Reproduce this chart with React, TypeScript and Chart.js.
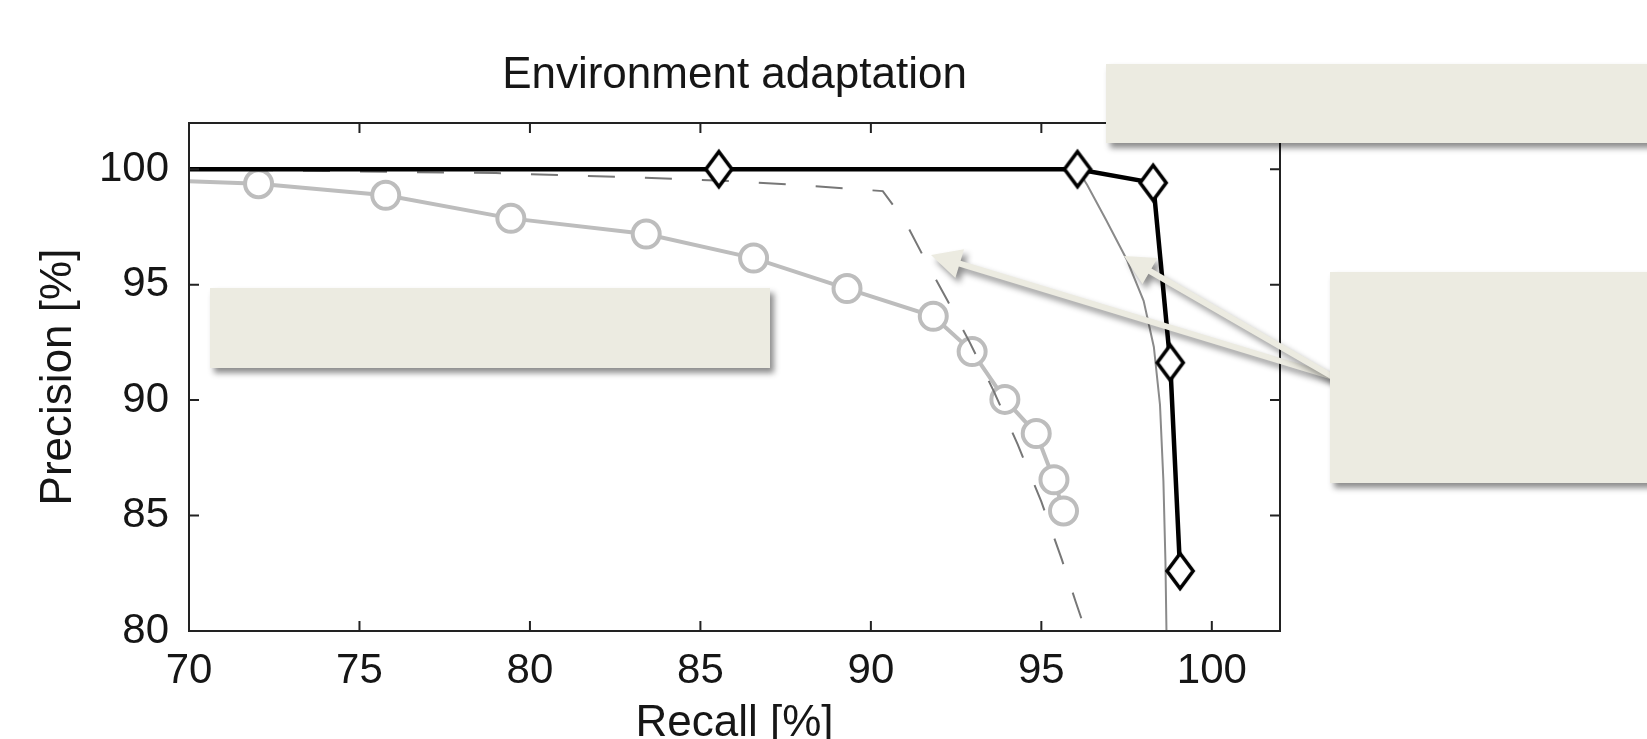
import { useEffect, useRef } from 'react';
import { Chart, registerables } from 'chart.js';

Chart.register(...registerables);

// ---------- data ----------
const xTicks = [70, 75, 80, 85, 90, 95, 100];
const yTicks = [80, 85, 90, 95, 100];

// black line, diamond markers
const adaptedRecall = [55, 85.54, 96.06, 98.28, 98.78, 99.07];
const adaptedPrecision = [100, 100, 100, 99.41, 91.62, 82.6];

// thin gray solid line
const thinRecall = [96.06, 96.35, 96.9, 97.5, 98.0, 98.3, 98.48, 98.58, 98.64, 98.67, 98.69];
const thinPrecision = [100, 99.3, 97.8, 96.1, 94.3, 92.3, 89.8, 86.5, 83.0, 80.0, 79.0];

// gray dashed line
const dashedRecall = [70, 74, 79, 83, 86, 88, 90.35, 91.0, 91.6, 92.25, 92.9, 93.6, 94.3, 95.0, 95.6, 96.0, 96.3, 96.5];
const dashedPrecision = [100, 99.92, 99.83, 99.65, 99.48, 99.3, 99.05, 97.75, 96.05, 94.3, 92.5, 90.4, 88.1, 85.6, 83.1, 81.3, 80.0, 79.0];

// light gray line, circle markers
const baselineRecall = [64, 72.04, 75.77, 79.44, 83.41, 86.56, 89.3, 91.83, 92.97, 93.93, 94.85, 95.37, 95.65];
const baselinePrecision = [99.8, 99.37, 98.87, 97.87, 97.19, 96.15, 94.83, 93.63, 92.1, 90.03, 88.55, 86.55, 85.2];

// ---------- layout constants ----------
const W = 1647;
const H = 739;
const AREA_LEFT = 189;
const AREA_RIGHT = 1280;
const AREA_BOTTOM = 631;
const BEIGE = '#ecebe1';
const FONT = '"Liberation Sans", Arial, Helvetica, sans-serif';
const TEXT = '#161616';

const toPoints = (xs: number[], ys: number[]) => xs.map((x, i) => ({ x, y: ys[i] }));

function makeDiamond(): HTMLCanvasElement {
  const c = document.createElement('canvas');
  c.width = 36;
  c.height = 46;
  const g = c.getContext('2d')!;
  g.beginPath();
  g.moveTo(18, 5.5);
  g.lineTo(31, 23);
  g.lineTo(18, 40.5);
  g.lineTo(5, 23);
  g.closePath();
  g.fillStyle = '#ffffff';
  g.fill();
  g.lineWidth = 3.6;
  g.lineJoin = 'miter';
  g.strokeStyle = '#000000';
  g.stroke();
  return c;
}

const framePlugin = {
  id: 'frame',
  afterDatasetsDraw(chart: any) {
    const { ctx, chartArea: a, scales } = chart;
    const x = scales.x;
    const y = scales.y;
    ctx.save();
    ctx.strokeStyle = '#222222';
    ctx.lineWidth = 2;
    ctx.strokeRect(a.left, a.top, a.right - a.left, a.bottom - a.top);
    const tl = 10;
    ctx.beginPath();
    for (const v of xTicks) {
      const px = x.getPixelForValue(v);
      ctx.moveTo(px, a.bottom);
      ctx.lineTo(px, a.bottom - tl);
      ctx.moveTo(px, a.top);
      ctx.lineTo(px, a.top + tl);
    }
    for (const v of yTicks) {
      const py = y.getPixelForValue(v);
      ctx.moveTo(a.left, py);
      ctx.lineTo(a.left + tl, py);
      ctx.moveTo(a.right, py);
      ctx.lineTo(a.right - tl, py);
    }
    ctx.stroke();
    ctx.restore();
  },
};

function shadowed(ctx: CanvasRenderingContext2D) {
  ctx.shadowColor = 'rgba(0,0,0,0.45)';
  ctx.shadowBlur = 6;
  ctx.shadowOffsetX = 4;
  ctx.shadowOffsetY = 5;
}

function drawBox(ctx: CanvasRenderingContext2D, x: number, y: number, w: number, h: number) {
  ctx.save();
  shadowed(ctx);
  ctx.fillStyle = BEIGE;
  ctx.fillRect(x, y, w, h);
  ctx.restore();
}

function drawArrow(ctx: CanvasRenderingContext2D, x0: number, y0: number, x1: number, y1: number) {
  const ang = Math.atan2(y1 - y0, x1 - x0);
  const ux = Math.cos(ang);
  const uy = Math.sin(ang);
  const nx = -uy;
  const ny = ux;
  const headLen = 30;
  const headW = 15;
  const sw = 3;
  const bx = x1 - ux * headLen;
  const by = y1 - uy * headLen;
  ctx.save();
  shadowed(ctx);
  ctx.fillStyle = BEIGE;
  ctx.beginPath();
  ctx.moveTo(x0 + nx * sw, y0 + ny * sw);
  ctx.lineTo(bx + nx * sw, by + ny * sw);
  ctx.lineTo(bx + nx * headW, by + ny * headW);
  ctx.lineTo(x1, y1);
  ctx.lineTo(bx - nx * headW, by - ny * headW);
  ctx.lineTo(bx - nx * sw, by - ny * sw);
  ctx.lineTo(x0 - nx * sw, y0 - ny * sw);
  ctx.closePath();
  ctx.fill();
  ctx.restore();
}

const overlayPlugin = {
  id: 'overlay',
  afterDraw(chart: any) {
    const ctx = chart.ctx as CanvasRenderingContext2D;
    drawArrow(ctx, 1333, 377, 931, 255);
    drawArrow(ctx, 1333, 377, 1124, 256);
    drawBox(ctx, 1106, 64, 560, 79);
    drawBox(ctx, 210, 288, 560, 80);
    drawBox(ctx, 1330, 272, 340, 211);
  },
};

export default function App() {
  const ref = useRef<HTMLCanvasElement | null>(null);

  useEffect(() => {
    if (!ref.current) return;
    const diamond = makeDiamond();
    const chart = new Chart(ref.current, {
      type: 'scatter',
      data: {
        datasets: [
          {
            data: toPoints(adaptedRecall, adaptedPrecision),
            showLine: true,
            borderColor: '#000000',
            borderWidth: 4.5,
            pointStyle: diamond as any,
            pointRadius: 15,
            tension: 0,
            clip: 0,
          },
          {
            data: toPoints(thinRecall, thinPrecision),
            showLine: true,
            borderColor: '#8a8a8a',
            borderWidth: 2,
            pointRadius: 0,
            tension: 0,
            clip: 0,
          },
          {
            data: toPoints(dashedRecall, dashedPrecision),
            showLine: true,
            borderColor: '#777777',
            borderWidth: 2,
            borderDash: [27, 30],
            pointRadius: 0,
            tension: 0,
            clip: 0,
          },
          {
            data: toPoints(baselineRecall, baselinePrecision),
            showLine: true,
            borderColor: '#bdbdbd',
            borderWidth: 4,
            pointStyle: 'circle',
            pointRadius: 13.5,
            pointBorderWidth: 4,
            pointBorderColor: '#bdbdbd',
            pointBackgroundColor: '#ffffff',
            tension: 0,
            clip: 0,
          },
        ] as any,
      },
      options: {
        responsive: false,
        animation: false,
        events: [],
        layout: { padding: { left: 0, right: W - AREA_RIGHT, top: 0, bottom: 0 } },
        plugins: {
          legend: { display: false },
          tooltip: { enabled: false },
          title: {
            display: true,
            text: 'Environment adaptation',
            fullSize: false,
            color: TEXT,
            font: { family: FONT, size: 44, weight: 'normal', lineHeight: 1.2 },
            padding: { top: 49.6, bottom: 20.6 },
          },
        },
        scales: {
          x: {
            type: 'linear',
            min: 70,
            max: 102,
            afterBuildTicks: (s: any) => {
              s.ticks = xTicks.map((v) => ({ value: v }));
            },
            afterFit: (s: any) => {
              s.height = H - AREA_BOTTOM;
            },
            grid: { display: false },
            border: { display: false },
            ticks: {
              color: TEXT,
              font: { family: FONT, size: 42 },
              padding: 7,
              maxRotation: 0,
              autoSkip: false,
            },
            title: {
              display: true,
              text: 'Recall [%]',
              color: TEXT,
              font: { family: FONT, size: 44, lineHeight: 1.2 },
              padding: { top: 0, bottom: -11 },
            },
          },
          y: {
            type: 'linear',
            min: 80,
            max: 102,
            afterBuildTicks: (s: any) => {
              s.ticks = yTicks.map((v) => ({ value: v }));
            },
            afterFit: (s: any) => {
              s.width = AREA_LEFT;
            },
            grid: { display: false },
            border: { display: false },
            ticks: {
              color: TEXT,
              font: { family: FONT, size: 42 },
              padding: 12,
              autoSkip: false,
            },
            title: {
              display: true,
              text: 'Precision [%]',
              color: TEXT,
              font: { family: FONT, size: 44, lineHeight: 1.2 },
              padding: { top: 32, bottom: 0 },
            },
          },
        },
      } as any,
      plugins: [framePlugin, overlayPlugin],
    });
    return () => chart.destroy();
  }, []);

  return (
    <div style={{ position: 'fixed', left: 0, top: 0, width: W, height: H, background: '#ffffff' }}>
      <canvas ref={ref} width={W} height={H} style={{ display: 'block' }} />
    </div>
  );
}
